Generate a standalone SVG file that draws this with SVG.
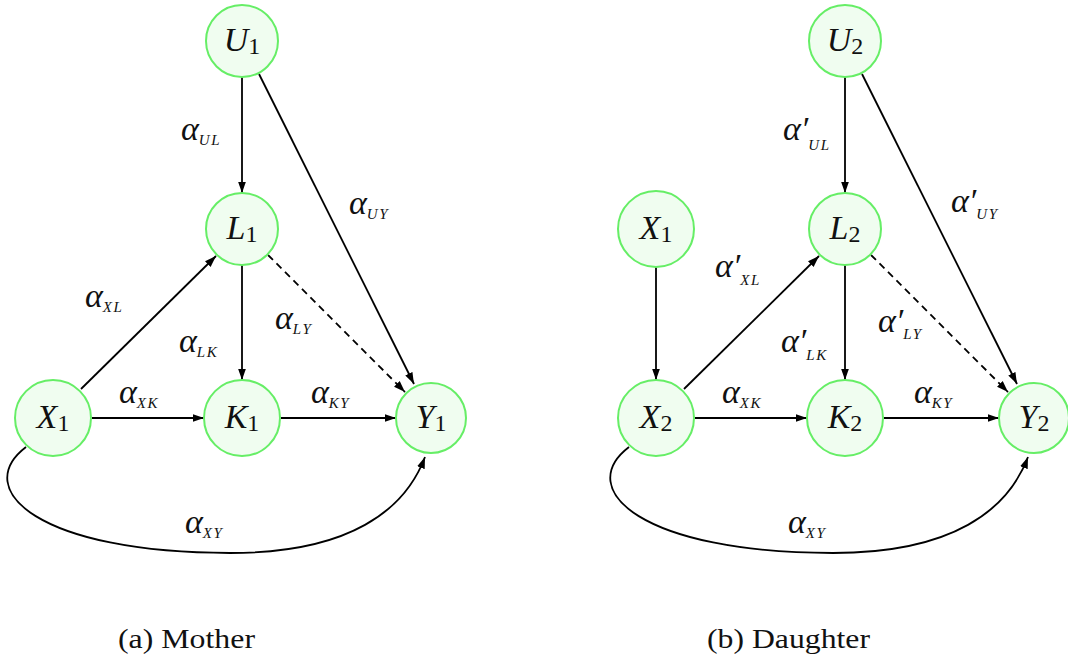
<svg xmlns="http://www.w3.org/2000/svg" width="1068" height="660" viewBox="0 0 1068 660">
<defs>
<style>
.node{fill:#f0fdf0;stroke:#66ee66;stroke-width:2}
.nl{font-family:"Liberation Serif","DejaVu Serif",serif;font-size:34px;fill:#111;text-anchor:middle}
.it{font-style:italic}
.sd{font-size:24px;font-style:normal}
.e{fill:none;stroke:#000;stroke-width:1.8;marker-end:url(#ah)}
.d{stroke-dasharray:7 5}
.a{font-family:"Liberation Serif","DejaVu Serif",serif;font-style:italic;font-size:34px;fill:#111}
.s{font-size:15px;letter-spacing:1.5px}
.cap{font-family:"Liberation Serif","DejaVu Serif",serif;font-size:27px;fill:#111}
</style>
<marker id="ah" markerUnits="userSpaceOnUse" markerWidth="12" markerHeight="9" refX="11.5" refY="4.5" orient="auto">
<path d="M0,0.5 L11.5,4.5 L0,8.5 z" fill="#000"/>
</marker>
</defs>

<g id="connectors">
<path class="e" d="M242,77 L242,193"/>
<path class="e" d="M259,74 L414,384"/>
<path class="e d" d="M268,255 L405,392"/>
<path class="e" d="M242,265 L242,380"/>
<path class="e" d="M81,389 L216,256"/>
<path class="e" d="M92,418 L204,418"/>
<path class="e" d="M281,418 L396,418"/>
<path class="e" d="M26,447 C-30,490 40,553 230,553 C350,553 405,510 425,457"/>

<path class="e" d="M845,77 L845,193"/>
<path class="e" d="M862,74 L1017,384"/>
<path class="e d" d="M871,255 L1008,392"/>
<path class="e" d="M845,265 L845,380"/>
<path class="e" d="M656,267 L656,380"/>
<path class="e" d="M684,389 L819,256"/>
<path class="e" d="M695,418 L807,418"/>
<path class="e" d="M884,418 L999,418"/>
<path class="e" d="M629,447 C573,490 643,553 833,553 C953,553 1008,510 1028,457"/>
</g>

<g id="labels">
<text class="a" x="181" y="140">α<tspan class="s" dy="5">UL</tspan></text>
<text class="a" x="349" y="214">α<tspan class="s" dy="5">UY</tspan></text>
<text class="a" x="85" y="307">α<tspan class="s" dy="5">XL</tspan></text>
<text class="a" x="179" y="352">α<tspan class="s" dy="5">LK</tspan></text>
<text class="a" x="275" y="329">α<tspan class="s" dy="5">LY</tspan></text>
<text class="a" x="119" y="403">α<tspan class="s" dy="5">XK</tspan></text>
<text class="a" x="311" y="403">α<tspan class="s" dy="5">KY</tspan></text>
<text class="a" x="185" y="533">α<tspan class="s" dy="5">XY</tspan></text>

<text class="a" x="783" y="140">α′<tspan class="s" dy="10">UL</tspan></text>
<text class="a" x="951" y="212">α′<tspan class="s" dy="7">UY</tspan></text>
<text class="a" x="715" y="277">α′<tspan class="s" dy="8">XL</tspan></text>
<text class="a" x="781" y="352">α′<tspan class="s" dy="8">LK</tspan></text>
<text class="a" x="878" y="332">α′<tspan class="s" dy="7">LY</tspan></text>
<text class="a" x="722" y="403">α<tspan class="s" dy="5">XK</tspan></text>
<text class="a" x="914" y="403">α<tspan class="s" dy="5">KY</tspan></text>
<text class="a" x="788" y="533">α<tspan class="s" dy="5">XY</tspan></text>
</g>

<g id="U1"><circle class="node" cx="242" cy="41" r="36"/><text class="nl" x="242" y="51"><tspan class="it">U</tspan><tspan class="sd" dy="3">1</tspan></text></g>
<g id="L1"><circle class="node" cx="242" cy="229" r="36"/><text class="nl" x="242" y="239"><tspan class="it">L</tspan><tspan class="sd" dy="3">1</tspan></text></g>
<g id="X1"><circle class="node" cx="53" cy="418" r="38"/><text class="nl" x="53" y="428"><tspan class="it">X</tspan><tspan class="sd" dy="3">1</tspan></text></g>
<g id="K1"><circle class="node" cx="242" cy="418" r="38"/><text class="nl" x="242" y="428"><tspan class="it">K</tspan><tspan class="sd" dy="3">1</tspan></text></g>
<g id="Y1"><circle class="node" cx="431" cy="418" r="35"/><text class="nl" x="431" y="428"><tspan class="it">Y</tspan><tspan class="sd" dy="3">1</tspan></text></g>

<g id="U2"><circle class="node" cx="845" cy="41" r="36"/><text class="nl" x="845" y="51"><tspan class="it">U</tspan><tspan class="sd" dy="3">2</tspan></text></g>
<g id="L2"><circle class="node" cx="845" cy="229" r="36"/><text class="nl" x="845" y="239"><tspan class="it">L</tspan><tspan class="sd" dy="3">2</tspan></text></g>
<g id="X1b"><circle class="node" cx="656" cy="229" r="38"/><text class="nl" x="656" y="239"><tspan class="it">X</tspan><tspan class="sd" dy="3">1</tspan></text></g>
<g id="X2"><circle class="node" cx="656" cy="418" r="38"/><text class="nl" x="656" y="428"><tspan class="it">X</tspan><tspan class="sd" dy="3">2</tspan></text></g>
<g id="K2"><circle class="node" cx="845" cy="418" r="38"/><text class="nl" x="845" y="428"><tspan class="it">K</tspan><tspan class="sd" dy="3">2</tspan></text></g>
<g id="Y2"><circle class="node" cx="1034" cy="418" r="35"/><text class="nl" x="1034" y="428"><tspan class="it">Y</tspan><tspan class="sd" dy="3">2</tspan></text></g>

<g id="captions">
<text class="cap" x="118" y="648" textLength="137" lengthAdjust="spacingAndGlyphs">(a) Mother</text>
<text class="cap" x="707" y="648" textLength="163" lengthAdjust="spacingAndGlyphs">(b) Daughter</text>
</g>
</svg>
